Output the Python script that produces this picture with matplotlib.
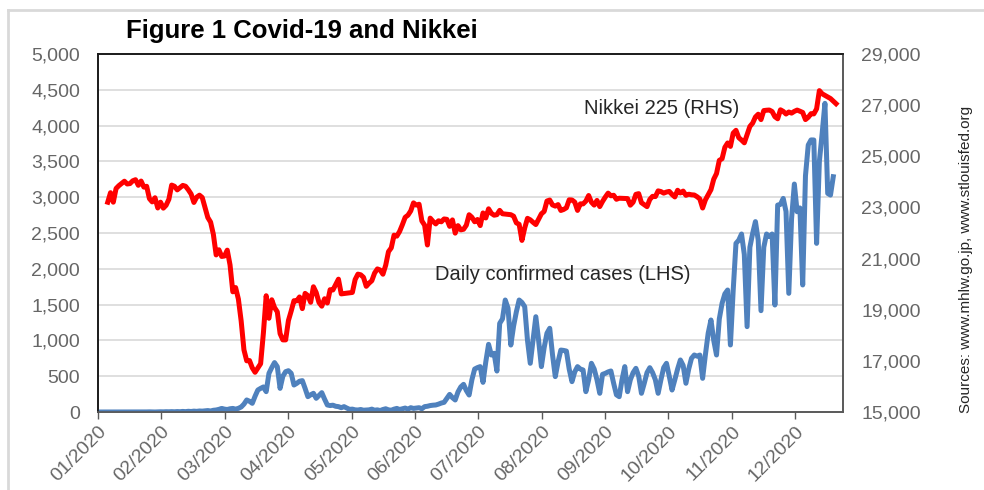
import matplotlib.pyplot as plt
import numpy as np
import pandas as pd
from matplotlib.ticker import FixedLocator
from matplotlib.lines import Line2D

plt.rcParams['font.family'] = ['Liberation Sans', 'DejaVu Sans']

# one row per weekday in the sheet, 01/01/2020 .. 08/01/2021
weekdays = pd.bdate_range('2020-01-01', '2021-01-08')
# weekdays with no Nikkei close
tse_closed = ['2020-01-01', '2020-01-02', '2020-01-03', '2020-01-13', '2020-02-11',
              '2020-02-24', '2020-03-20', '2020-04-29', '2020-05-04', '2020-05-05',
              '2020-05-06', '2020-07-23', '2020-07-24', '2020-08-10', '2020-09-21',
              '2020-09-22', '2020-10-01', '2020-11-03', '2020-11-23', '2020-12-31',
              '2021-01-01']

# Nikkei 225 closes (RHS)
nikkei_jan = [23205, 23576, 23205, 23740, 23851, 24025, 23917, 23933, 24041, 24084,
              23865, 24031, 23795, 23827, 23344, 23216, 23379, 22978, 23205]
nikkei_feb = [22972, 23085, 23320, 23874, 23828, 23686, 23861, 23828, 23688, 23523,
              23194, 23401, 23479, 23387, 22605, 22426, 21948, 21143]
nikkei_mar = [21344, 21083, 21100, 21329, 20750, 19699, 19867, 19416, 18560, 17431,
              17002, 17012, 16727, 16553, 16888, 18092, 19547, 18665, 19389, 19085, 18917]
nikkei_apr = [18065, 17819, 17820, 18576, 18950, 19353, 19346, 19499, 19043, 19639,
              19550, 19290, 19897, 19669, 19281, 19138, 19429, 19262, 19783, 19771, 20194]
nikkei_may = [19619, 19675, 20179, 20391, 20366, 20267, 19915, 20037, 20134, 20433,
              20595, 20552, 20388, 20742, 21271, 21419, 21916, 21878]
nikkei_jun = [22062, 22326, 22614, 22696, 22864, 23178, 23091, 23125, 22473, 22305,
              21531, 22582, 22456, 22355, 22479, 22437, 22549, 22534, 22260, 22512,
              21995, 22288]
nikkei_jul = [22122, 22146, 22306, 22714, 22615, 22439, 22529, 22291, 22785, 22587,
              22946, 22770, 22696, 22717, 22884, 22752, 22716, 22657, 22397, 22339, 21710]
nikkei_aug = [22195, 22574, 22515, 22418, 22330, 22750, 22844, 23250, 23289, 23097,
              23051, 23111, 22881, 22920, 22986, 23297, 23291, 23209, 22883, 23140]
nikkei_sep = [23138, 23247, 23466, 23205, 23090, 23274, 23033, 23235, 23406, 23559,
              23455, 23476, 23319, 23360, 23346, 23088, 23205, 23512, 23539, 23185]
nikkei_oct = [23030, 23312, 23434, 23423, 23647, 23620, 23559, 23602, 23627, 23507,
              23411, 23671, 23567, 23639, 23474, 23517, 23494, 23486, 23419, 23332, 22977]
nikkei_nov = [23295, 23695, 24105, 24325, 24840, 24906, 25350, 25521, 25386, 25907,
              26015, 25728, 25634, 25527, 26166, 26297, 26537, 26645, 26434]
nikkei_dec = [26788, 26801, 26809, 26751, 26547, 26467, 26818, 26756, 26653, 26732,
              26688, 26757, 26807, 26763, 26714, 26436, 26525, 26668, 26657, 26854,
              27568, 27444]
nikkei_jan21 = [27258, 27159, 27056]

# daily confirmed cases (LHS), one value per weekday row
covid_jan = [0, 0, 0, 0, 0, 0, 0, 0, 0, 0, 0, 0, 1, 0, 0, 1, 0, 1, 2, 1, 0, 2, 3]
covid_feb = [2, 4, 3, 5, 3, 6, 4, 8, 5, 10, 7, 12, 9, 14, 12, 16, 20, 14, 24, 28]
covid_mar = [37, 50, 40, 35, 45, 50, 40, 51, 70, 110, 168, 150, 121, 220, 307, 330,
             350, 284, 540, 620, 690, 633]
covid_apr = [330, 500, 563, 577, 540, 377, 400, 430, 438, 330, 214, 240, 261, 191,
             230, 270, 180, 98, 90, 95, 80, 75]
covid_may = [60, 75, 55, 37, 40, 30, 28, 35, 25, 28, 30, 40, 25, 30, 20, 35, 45, 30,
             25, 40, 50]
covid_jun = [35, 45, 55, 40, 60, 50, 55, 60, 45, 75, 80, 90, 95, 98, 110, 125, 135,
             190, 246, 200, 168, 280]
covid_jul = [350, 386, 300, 237, 450, 600, 620, 634, 414, 700, 945, 796, 820, 572,
             1238, 1300, 1564, 1450, 935, 1200, 1400, 1564, 1530]
covid_aug = [1471, 1000, 680, 1000, 1331, 1000, 634, 900, 1100, 1169, 800, 494, 700,
             865, 860, 851, 600, 424, 560, 634, 600]
covid_sep = [587, 284, 450, 680, 600, 450, 261, 526, 540, 560, 573, 400, 240, 214,
             450, 634, 284, 450, 550, 610, 500, 261]
covid_oct = [400, 550, 619, 550, 450, 261, 450, 620, 680, 500, 307, 450, 600, 727,
             650, 401, 600, 750, 796, 780, 796, 470]
covid_nov = [800, 1100, 1285, 1000, 796, 1300, 1518, 1650, 1704, 936, 1700, 2355,
             2400, 2486, 2200, 1192, 2300, 2495, 2659, 2400, 1415]
covid_dec = [2300, 2486, 2450, 2486, 1494, 2890, 2900, 2983, 2800, 1657, 2700, 3184,
             2797, 2850, 1774, 3300, 3729, 3800, 3799, 2355, 3500, 3892, 4311]
covid_jan21 = [3053, 3030, 3286]

month_labels = ['01/2020', '02/2020', '03/2020', '04/2020', '05/2020', '06/2020',
                '07/2020', '08/2020', '09/2020', '10/2020', '11/2020', '12/2020']
left_ticks = np.arange(0, 5001, 500)
right_ticks = np.arange(15000, 29001, 2000)

nikkei = (nikkei_jan + nikkei_feb + nikkei_mar + nikkei_apr + nikkei_may + nikkei_jun
          + nikkei_jul + nikkei_aug + nikkei_sep + nikkei_oct + nikkei_nov + nikkei_dec
          + nikkei_jan21)
covid = (covid_jan + covid_feb + covid_mar + covid_apr + covid_may + covid_jun
         + covid_jul + covid_aug + covid_sep + covid_oct + covid_nov + covid_dec
         + covid_jan21)

closed = set(pd.to_datetime(tse_closed))
open_rows = [i for i, d in enumerate(weekdays) if d not in closed][:len(nikkei)]

fig = plt.figure(figsize=(9.84, 4.9), dpi=100)
ax = fig.add_axes([98/984, 78/490, 745/984, 358/490])
axr = ax.twinx()
ax.set_zorder(2)
axr.set_zorder(1)
ax.patch.set_visible(False)

axr.plot(open_rows, nikkei, color='#ff0000', lw=3.6, solid_joinstyle='round')
ax.plot(np.arange(len(covid)), covid, color='#4f81bd', lw=3.6, solid_joinstyle='round')

ax.set_xlim(-0.5, len(weekdays) - 0.5)
ax.set_ylim(left_ticks[0], left_ticks[-1])
axr.set_ylim(right_ticks[0], right_ticks[-1])

# gridlines on the back axes so they stay under both lines
scale = (right_ticks[-1] - right_ticks[0]) / (left_ticks[-1] - left_ticks[0])
axr.yaxis.set_minor_locator(FixedLocator(right_ticks[0] + left_ticks * scale))
axr.grid(which='minor', axis='y', color='#d9d9d9', lw=1.2)
axr.tick_params(which='minor', length=0)

tick_grey = '#666666'
ax.set_yticks(left_ticks)
ax.set_yticklabels([f'{v:,}' for v in left_ticks])
axr.set_yticks(right_ticks)
axr.set_yticklabels([f'{v:,}' for v in right_ticks])
ax.tick_params(axis='y', length=0, pad=13, labelsize=14, labelcolor=tick_grey)
axr.tick_params(axis='y', which='major', length=0, pad=13, labelsize=14, labelcolor=tick_grey)

ax.set_xticks([-0.5 + 22.8 * k for k in range(len(month_labels))])
ax.set_xticklabels(month_labels, rotation=45, ha='right', rotation_mode='anchor')
ax.tick_params(axis='x', direction='out', length=5, width=1, color='#595959', pad=3,
               labelsize=14, labelcolor=tick_grey)

for a in (ax, axr):
    a.spines['left'].set_color('#1a1a1a')
    a.spines['top'].set_color('#1a1a1a')
    a.spines['right'].set_color('#595959')
    a.spines['bottom'].set_color('#595959')
    for s in a.spines.values():
        s.set_linewidth(1.2)

fig.text(302/984, 1 - 31/490, 'Figure 1 Covid-19 and Nikkei', ha='center', va='center',
         fontsize=18.5, fontweight='bold', color='#000000')
fig.text(662/984, 1 - 108/490, 'Nikkei 225 (RHS)', ha='center', va='center',
         fontsize=14.5, color='#262626')
fig.text(563/984, 1 - 274/490, 'Daily confirmed cases (LHS)', ha='center', va='center',
         fontsize=14.5, color='#262626')
fig.text(966/984, 1 - 259/490, 'Sources: www.mhlw.go.jp, www.stlouisfed.org',
         rotation=90, ha='center', va='center', fontsize=11, color='#262626')

# light frame of the chart object
fig.add_artist(Line2D([7.5/984, 1], [1 - 10/490, 1 - 10/490], color='#d9d9d9', lw=2))
fig.add_artist(Line2D([7.5/984, 7.5/984], [0, 1 - 10/490], color='#d9d9d9', lw=2))

fig.savefig('out.png', dpi=100)
